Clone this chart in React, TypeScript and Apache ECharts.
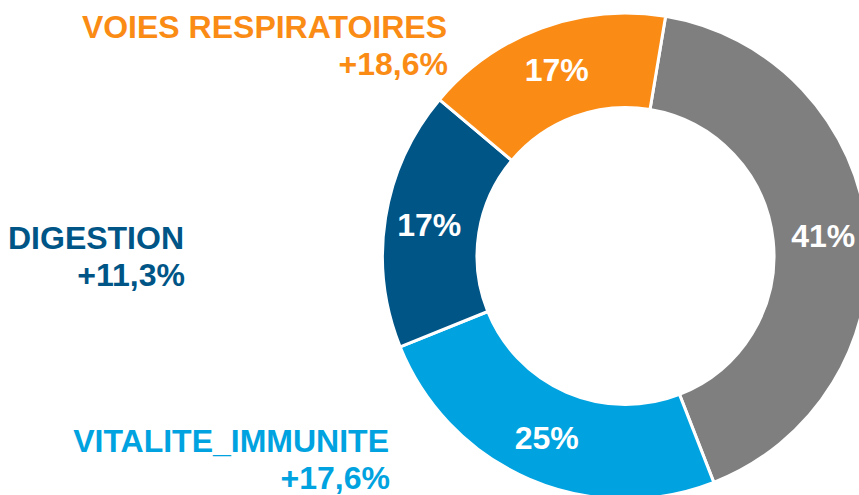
import React, { useEffect, useRef } from "react";
import * as echarts from "echarts";

// Slices, clockwise from the top
const categories = ["AUTRES", "VITALITE_IMMUNITE", "DIGESTION", "VOIES RESPIRATOIRES"];
const shares = [41.4, 24.8, 17.2, 16.5];
const growth = ["", "+17,6%", "+11,3%", "+18,6%"];
const colors = ["#7F7F7F", "#00A3E0", "#005587", "#FA8C16"];

// Outside label placement (style only)
const labelPos: Record<string, { x: number; y: number }> = {
  "VOIES RESPIRATOIRES": { x: 447, y: 27 },
  DIGESTION: { x: 184, y: 238 },
  VITALITE_IMMUNITE: { x: 389, y: 441 },
};

const FONT = '"Liberation Sans", Arial, Helvetica, sans-serif';

export default function App() {
  const ref = useRef<HTMLDivElement>(null);
  useEffect(() => {
    if (!ref.current) return;
    const chart = echarts.init(ref.current, undefined, { renderer: "svg" });
    const graphics: any[] = [];
    categories.forEach((c, i) => {
      const p = labelPos[c];
      if (!p) return;
      graphics.push({
        type: "text",
        x: p.x,
        y: p.y,
        style: {
          text: c,
          fill: colors[i],
          font: `bold 32px ${FONT}`,
          textAlign: "right",
          textVerticalAlign: "middle",
        },
      });
      graphics.push({
        type: "text",
        x: p.x + 1,
        y: p.y + 37,
        style: {
          text: growth[i],
          fill: colors[i],
          font: `bold 32px ${FONT}`,
          textAlign: "right",
          textVerticalAlign: "middle",
        },
      });
    });
    chart.setOption({
      animation: false,
      backgroundColor: "#ffffff",
      graphic: graphics,
      series: [
        {
          type: "pie",
          center: [625.5, 256],
          radius: [148.5, 243],
          startAngle: 80.5,
          clockwise: true,
          avoidLabelOverlap: false,
          itemStyle: { borderColor: "#ffffff", borderWidth: 3 },
          label: {
            show: true,
            position: "inside",
            color: "#ffffff",
            fontWeight: "bold",
            fontSize: 32,
            fontFamily: FONT,
            formatter: (p: any) => `${Math.round(p.percent)}%`,
          },
          labelLine: { show: false },
          emphasis: { disabled: true },
          data: categories.map((c, i) => ({
            name: c,
            value: shares[i],
            itemStyle: { color: colors[i] },
          })),
        },
      ],
    });
    return () => chart.dispose();
  }, []);
  return (
    <div
      ref={ref}
      style={{ position: "fixed", left: 0, top: 0, width: 859, height: 495 }}
    />
  );
}
